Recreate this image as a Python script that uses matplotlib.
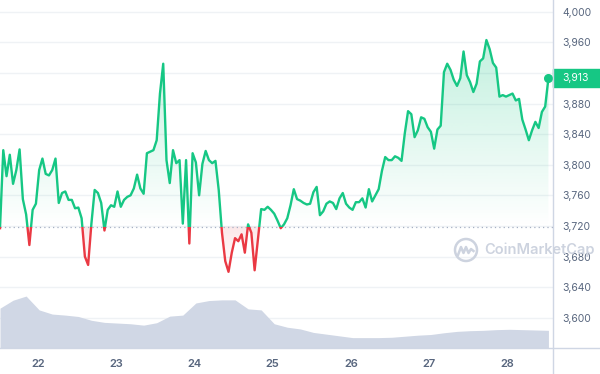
import numpy as np
import pandas as pd
import matplotlib
matplotlib.use("Agg")
import matplotlib.pyplot as plt
import matplotlib.dates as mdates
from matplotlib.patches import Rectangle, Ellipse
from matplotlib.path import Path
from matplotlib.lines import Line2D
from matplotlib.transforms import blended_transform_factory

# hourly prices (USD), 7 days
prices = [
    3717, 3819, 3785, 3813, 3775, 3793, 3820, 3755, 3735, 3695,
    3741, 3749, 3793, 3808, 3788, 3786, 3793, 3808, 3750, 3763,
    3765, 3754, 3754, 3743, 3744, 3730, 3680, 3669, 3723, 3767,
    3763, 3750, 3714, 3741, 3747, 3745, 3765, 3745, 3754, 3758,
    3760, 3769, 3787, 3769, 3762, 3815, 3817, 3819, 3832, 3893,
    3932, 3806, 3776, 3819, 3802, 3806, 3723, 3806, 3697, 3815,
    3803, 3760, 3801, 3818, 3806, 3802, 3805, 3767, 3711, 3674,
    3660, 3685, 3704, 3700, 3709, 3685, 3722, 3711, 3662, 3702,
    3742, 3741, 3745, 3741, 3736, 3727, 3717, 3722, 3730, 3747,
    3768, 3755, 3753, 3750, 3748, 3749, 3764, 3771, 3734, 3739,
    3749, 3752, 3750, 3742, 3756, 3763, 3749, 3744, 3741, 3751,
    3751, 3756, 3744, 3768, 3752, 3760, 3768, 3792, 3810, 3806,
    3806, 3811, 3809, 3805, 3841, 3870, 3866, 3836, 3845, 3862,
    3860, 3849, 3843, 3821, 3846, 3851, 3921, 3932, 3924, 3911,
    3903, 3913, 3948, 3917, 3908, 3895, 3906, 3935, 3939, 3963,
    3951, 3933, 3927, 3889, 3891, 3889, 3891, 3893, 3884, 3886,
    3859, 3846, 3832, 3845, 3856, 3848, 3869, 3876, 3913,
]
# 24h volume (billions USD), every 4 hours
volumes = [
    23.0, 27.6, 30.0, 22.0, 19.6, 19.0, 18.2, 16.0, 14.8, 14.4,
    14.0, 13.2, 14.6, 18.4, 19.0, 26.0, 27.4, 27.8, 27.8, 22.6,
    22.0, 14.0, 12.0, 11.0, 9.0, 8.0, 7.0, 6.0, 6.0, 6.0,
    6.2, 6.8, 7.4, 7.8, 8.8, 9.6, 10.0, 10.2, 10.6, 10.8,
    10.6, 10.4, 10.2,
]
open_price = 3719
ytick_vals = [3600, 3640, 3680, 3720, 3760, 3800, 3840, 3880, 3920, 3960, 4000]

green = "#16c784"
red = "#ea3943"
label_col = "#58667e"
line_col = "#cfd6e4"

times = pd.date_range("2024-05-21 12:28", periods=len(prices), freq="h")
vol_times = times[::4]
p = np.array(prices, dtype=float)
tnum = mdates.date2num(times)

plt.rcParams["font.family"] = ["Inter", "DejaVu Sans"]

fig = plt.figure(figsize=(6, 3.74), dpi=100)
rect = [0, 26 / 374, 553 / 600, 348 / 374]
ax = fig.add_axes(rect)
axv = ax.twinx()   # volume on its own scale, drawn over the grid

x0 = tnum[0]
x1 = mdates.date2num(times[0] + pd.Timedelta(hours=169.4))
ylo, yhi = 3560.4, 4015.3

# gradient fills
up = ax.fill_between(tnum, p, open_price, where=p >= open_price, interpolate=True,
                     facecolor="none", edgecolor="none")
dn = ax.fill_between(tnum, p, open_price, where=p <= open_price, interpolate=True,
                     facecolor="none", edgecolor="none")

g = np.zeros((256, 1, 4))
g[..., :3] = matplotlib.colors.to_rgb(green)
g[:, 0, 3] = np.linspace(0.0, 0.26, 256)
im = ax.imshow(g, extent=[x0, x1, open_price, p.max()], origin="lower",
               aspect="auto", interpolation="bilinear", zorder=1)
im.set_clip_path(Path.make_compound_path(*up.get_paths()), ax.transData)

r = np.zeros((256, 1, 4))
r[..., :3] = matplotlib.colors.to_rgb(red)
r[:, 0, 3] = np.linspace(0.0, 0.12, 256)
im2 = ax.imshow(r, extent=[x0, x1, p.min(), open_price], origin="lower",
                aspect="auto", interpolation="bilinear", zorder=1)
im2.set_clip_path(Path.make_compound_path(*dn.get_paths()), ax.transData)

# baseline
ax.axhline(open_price, color="#a6b0c3", lw=0.9, ls=(0, (1, 2.5)), zorder=2)

# price line, green above / red below the open
lg, = ax.plot(times, p, color=green, lw=1.7, zorder=3, solid_joinstyle="round")
lg.set_clip_path(Rectangle((x0, open_price), x1 - x0, 1000, transform=ax.transData))
lr, = ax.plot(times, p, color=red, lw=1.7, zorder=3, solid_joinstyle="round")
lr.set_clip_path(Rectangle((x0, open_price - 1000), x1 - x0, 1000, transform=ax.transData))
ax.plot(times[-1], p[-1], "o", ms=5.5, color=green, zorder=4)

ax.set_xlim(x0, x1)
ax.set_ylim(ylo, yhi)
ax.set_yticks(ytick_vals)
ax.set_yticklabels([f"{v:,}" for v in ytick_vals])
ax.yaxis.tick_right()
ax.yaxis.set_label_position("right")
ax.yaxis.grid(True, color="#eff2f5", lw=1)
ax.set_axisbelow(True)
ax.tick_params(axis="y", which="both", left=False, labelleft=False, right=False,
               labelright=True, length=0, pad=6.5, labelsize=7.5, labelcolor=label_col)
ax.tick_params(axis="x", length=0, pad=8, labelsize=8, labelcolor=label_col)
ax.xaxis.set_major_locator(mdates.DayLocator())
ax.xaxis.set_major_formatter(mdates.DateFormatter("%-d"))
for lab in ax.get_xticklabels():
    lab.set_fontweight("semibold")
for s in ax.spines.values():
    s.set_visible(False)

# current price tag
tr = blended_transform_factory(ax.transAxes, ax.transData)
ax.add_patch(Rectangle((1.0, p[-1] - 11.8), 47 / 553, 23.6, transform=tr,
                       color=green, clip_on=False, zorder=10))
ax.text(1.0 + 9 / 553, p[-1], f"{int(p[-1]):,}", transform=tr, color="white",
        fontsize=7.5, va="center", ha="left", zorder=11, clip_on=False)

# volume
axv.set_zorder(ax.get_zorder() + 1)
axv.patch.set_visible(False)
axv.fill_between(vol_times, volumes, color="#d0d7e5", lw=0)
axv.set_ylim(0, max(volumes) * 6.7)
axv.set_xlim(x0, x1)
axv.set_yticks([])
for s in axv.spines.values():
    s.set_visible(False)

# frame lines
fig.add_artist(Line2D([553 / 600, 553 / 600], [0, 1], color=line_col, lw=1,
                      transform=fig.transFigure))
fig.add_artist(Line2D([0, 1], [26 / 374, 26 / 374], color=line_col, lw=1,
                      transform=fig.transFigure))

# watermark
wm = "#cdd3df"
fig.add_artist(Ellipse((466 / 600, 1 - 250 / 374), 22 / 600, 22 / 374,
                       transform=fig.transFigure, fill=False, ec=wm, lw=1.8))
wx = np.array([458, 461, 463.5, 466, 468.5, 471, 473.5]) / 600
wy = 1 - np.array([255, 247, 253, 247, 253, 249, 251]) / 374
fig.add_artist(Line2D(wx, wy, color=wm, lw=1.8, transform=fig.transFigure))
fig.text(484 / 600, 1 - 250 / 374, "CoinMarketCap", color=wm, fontsize=10.5,
         fontweight="semibold", va="center", ha="left")

fig.savefig("out.png", dpi=100)
